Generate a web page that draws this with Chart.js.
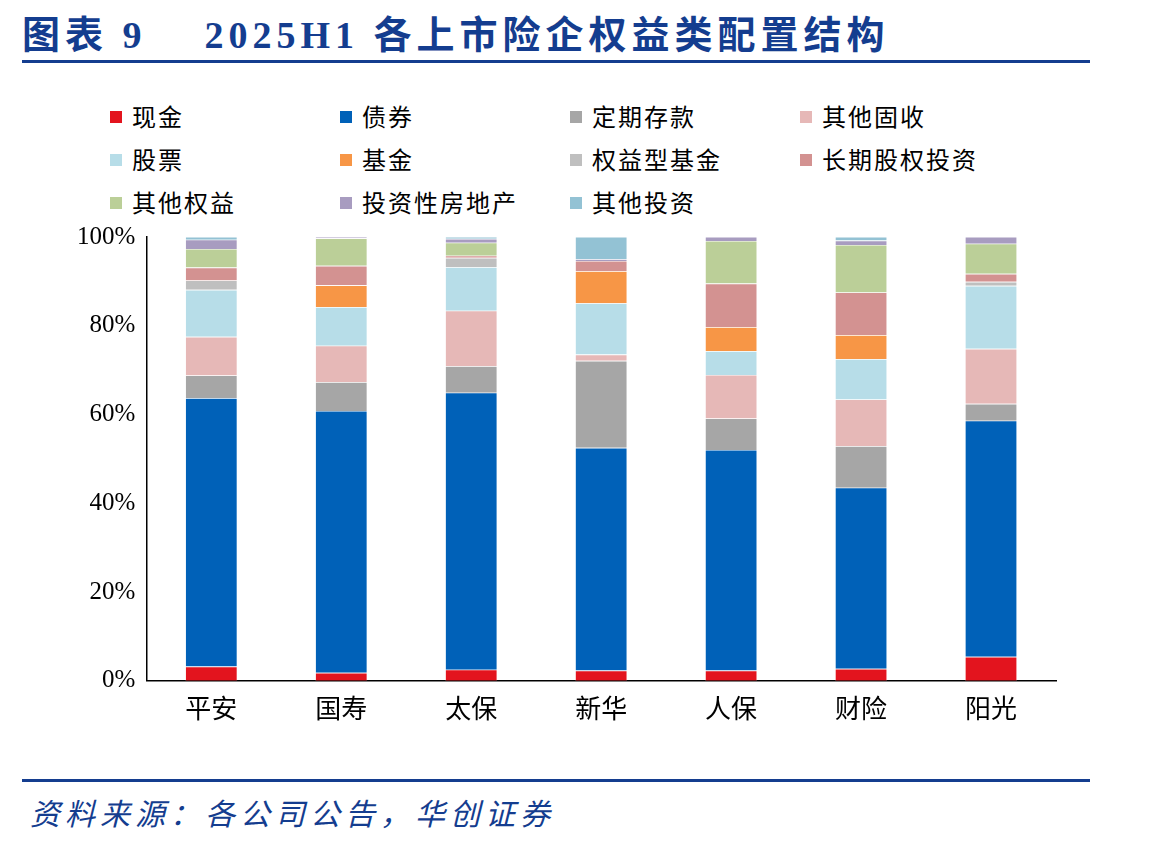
<!DOCTYPE html>
<html><head><meta charset="utf-8">
<script src="https://cdn.jsdelivr.net/npm/chart.js@4/dist/chart.umd.min.js"></script>
<style>
body{margin:0;width:1149px;height:849px;background:#fff;position:relative;overflow:hidden;font-family:"Liberation Serif","Noto Sans CJK SC",serif}
#title{position:absolute;left:22px;top:4px;font-size:38px;letter-spacing:5px;font-weight:bold;color:#143d8f;white-space:pre;font-family:"Liberation Serif","Noto Sans CJK SC",serif}
.rule{position:absolute;left:22px;width:1068px;height:3px;background:#143d8f}
#legend{position:absolute;left:110px;top:98px;width:940px}
.li{position:absolute;font-size:24px;letter-spacing:2px;color:#000;white-space:nowrap;font-family:"Noto Sans CJK SC",sans-serif}
.li span{display:inline-block;width:12px;height:12px;margin-right:10px;vertical-align:middle;position:relative;top:-2px}
#src{position:absolute;left:30px;top:790px;font-size:30px;letter-spacing:5px;font-style:italic;color:#143d8f;font-family:"Noto Sans CJK SC",sans-serif}
#wrap{position:absolute;left:73px;top:218px;width:997px;height:518px}
</style></head><body>
<div id="title">图表 9    2025H1 各上市险企权益类配置结构</div>
<div class="rule" style="top:60px"></div>
<div id="legend"></div>
<div id="wrap"><canvas id="c"></canvas></div>
<div class="rule" style="top:779px"></div>
<div id="src">资料来源：各公司公告，华创证券</div>
<script>
const categories = ['平安', '国寿', '太保', '新华', '人保', '财险', '阳光'];
const seriesNames = ['现金', '债券', '定期存款', '其他固收', '股票', '基金', '权益型基金', '长期股权投资', '其他权益', '投资性房地产', '其他投资'];
const seriesColors = ['#e3141e', '#0061b8', '#a6a6a6', '#e6b8b7', '#b7dde8', '#f79646', '#bfbfbf', '#d39291', '#bbcf98', '#a89cc0', '#93c2d4'];
const cash = [3.2, 1.8, 2.5, 2.3, 2.3, 2.7, 5.4];
const bonds = [60.5, 59.0, 62.4, 50.2, 49.7, 40.8, 53.2];
const deposits = [5.1, 6.5, 6.0, 19.6, 7.1, 9.4, 3.8];
const otherFixed = [8.7, 8.2, 12.5, 1.4, 9.8, 10.5, 12.4];
const stocks = [10.6, 8.7, 9.8, 11.6, 5.4, 9.1, 14.2];
const funds = [0, 4.9, 0, 7.2, 5.4, 5.4, 0];
const equityFunds = [2.1, 0, 2.1, 0, 0, 0, 0.9];
const longTermEquity = [2.9, 4.4, 0.5, 2.3, 9.8, 9.6, 1.8];
const otherEquity = [4.2, 6.2, 2.9, 0, 9.6, 10.7, 6.8];
const property = [2.1, 0.3, 0.9, 0.4, 0.9, 1.0, 1.5];
const otherInvest = [0.6, 0, 0.4, 5.0, 0, 0.8, 0];
const yTicks = [0, 20, 40, 60, 80, 100];

const series = [cash, bonds, deposits, otherFixed, stocks, funds, equityFunds, longTermEquity, otherEquity, property, otherInvest];

// legend: 4 columns, 3 rows
const lg = document.getElementById('legend');
seriesNames.forEach((name, i) => {
  const d = document.createElement('div');
  d.className = 'li';
  d.style.left = (i % 4) * 230 + 'px';
  d.style.top = Math.floor(i / 4) * 43 + 'px';
  d.innerHTML = '<span style="background:' + seriesColors[i] + '"></span>' + name;
  lg.appendChild(d);
});

new Chart(document.getElementById('c').getContext('2d'), {
  type: 'bar',
  data: {
    labels: categories,
    datasets: series.map((vals, i) => ({
      label: seriesNames[i],
      data: vals,
      backgroundColor: seriesColors[i],
      borderColor: 'rgba(255,255,255,0.6)',
      borderWidth: 0.6,
      barPercentage: 0.4,
      categoryPercentage: 1,
    })),
  },
  options: {
    responsive: true,
    maintainAspectRatio: false,
    animation: false,
    layout: { padding: { top: 8, right: 14 } },
    plugins: { legend: { display: false }, tooltip: { enabled: false } },
    scales: {
      x: {
        stacked: true,
        grid: { display: false, drawTicks: false },
        border: { color: '#000', width: 1.5 },
        ticks: { color: '#000', padding: 12, font: { size: 26, family: '"Noto Sans CJK SC", sans-serif' } },
      },
      y: {
        stacked: true,
        min: 0,
        max: 100,
        afterBuildTicks: (axis) => { axis.ticks = yTicks.map((v) => ({ value: v })); },
        grid: { display: false, drawTicks: true, tickLength: 7, tickColor: '#000' },
        border: { color: '#000', width: 1.5 },
        ticks: { color: '#000', padding: 4, font: { size: 25, family: '"Liberation Serif", serif' }, callback: (v) => v + '%' },
      },
    },
  },
});
</script>
</body></html>
